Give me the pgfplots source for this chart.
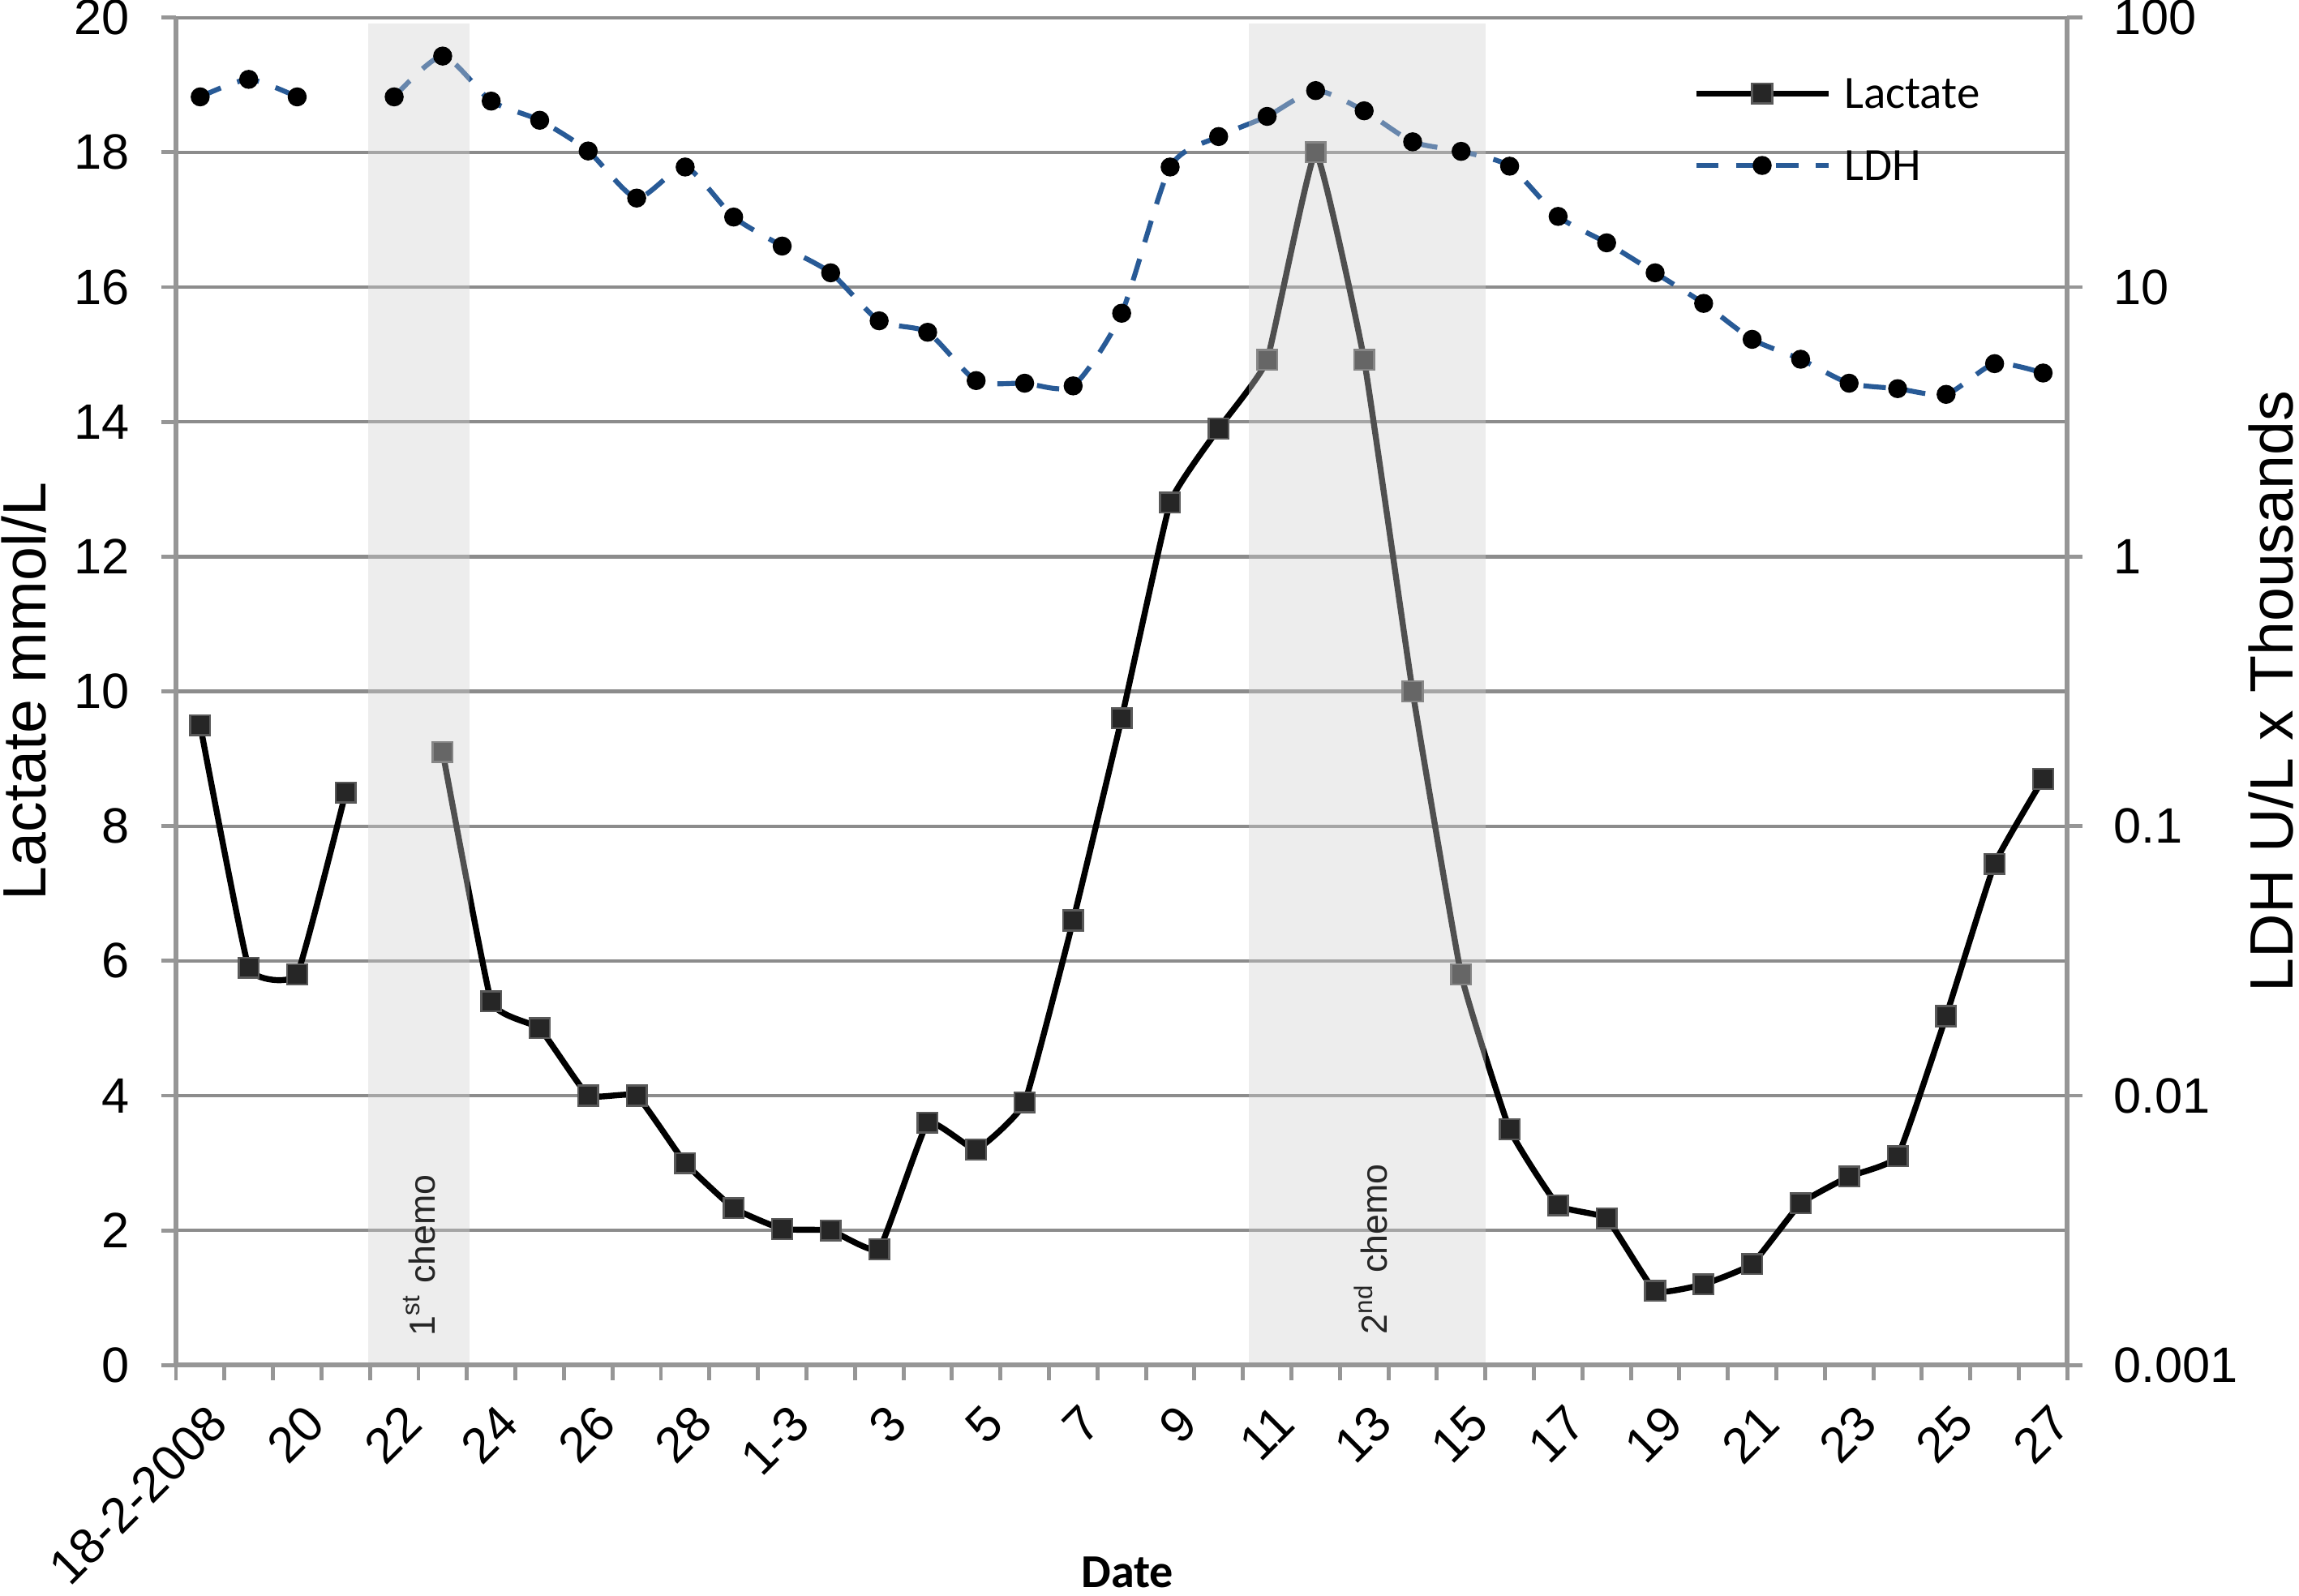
\documentclass[border=0pt]{standalone}
\usepackage{fontspec}
\setmainfont{Liberation Sans}
\newfontfamily\carlito{Carlito}
\usepackage{pgfplots}
\pgfplotsset{compat=1.18}
\definecolor{gridgray}{RGB}{140,140,140}
\definecolor{axgray}{RGB}{150,150,150}
\definecolor{ldhblue}{RGB}{40,90,150}
\definecolor{shadegray}{RGB}{208,208,208}
\begin{document}
\begin{tikzpicture}
\path[use as bounding box] (-35.28bp,-46.16bp) rectangle (425.71bp,273.72bp);
\begin{axis}[
  at={(0,0)}, anchor=south west,
  scale only axis, width=379.26bp, height=270.19bp,
  xmin=-0.5, xmax=38.5, ymin=0, ymax=20,
  axis x line*=bottom, axis y line*=left,
  axis line style={-, draw=axgray, line width=1bp},
  tick align=outside, major tick length=3bp,
  tick style={draw=axgray, line width=0.8bp},
  xtick={-0.5,0.5,...,38.5}, xticklabels={},
  extra x ticks={0,2,...,38},
  extra x tick labels={18-2-2008,20,22,24,26,28,1-3,3,5,7,9,11,13,15,17,19,21,23,25,27},
  extra x tick style={major tick length=0pt, tick style={draw=none}},
  xticklabel style={font=\fontsize{10}{12}\selectfont, inner sep=0pt, xshift=3.75bp, yshift=-9.85bp, rotate=45, anchor=east},
  ytick={0,2,...,20}, yticklabels={0,2,4,6,8,10,12,14,16,18,20},
  yticklabel style={font=\fontsize{10}{12}\selectfont, inner sep=0pt, xshift=-6.1bp},
  ymajorgrids, major grid style={draw=gridgray, line width=0.7bp},
  ylabel={Lactate mmol/L},
  ylabel style={at={(axis description cs:-0.0802,0.5)}, anchor=center, font=\fontsize{12.3}{14}\selectfont},
  xlabel={Date},
  xlabel style={at={(axis description cs:0.5031,-0.1535)}, anchor=center, font=\carlito\bfseries\fontsize{9.5}{11}\selectfont},
  unbounded coords=jump,
  legend style={draw=none, fill=none, at={(0.8016,0.917)}, anchor=west, inner sep=0pt,
    row sep=8.5bp, column sep=2.6bp, nodes={inner sep=0pt, text depth=0pt},
    cells={anchor=west}, font=\carlito\fontsize{9.3}{11}\selectfont},
  legend image code/.code={\draw[mark repeat=2,mark phase=2] plot coordinates {(0bp,0bp) (13.25bp,0bp) (26.5bp,0bp)};},
]
\addplot[black, line width=1.2bp, smooth, tension=0.2, mark=square*, mark size=2bp,
  mark options={fill=black!85, draw=black!65, line width=0.4bp, solid}] coordinates {
(0,9.5) (1,5.9) (2,5.8) (3,8.5) (4,nan) (5,9.1) (6,5.4) (7,5.0) (8,4.0) (9,4.0)
(10,3.0) (11,2.33) (12,2.02) (13,2.0) (14,1.72) (15,3.6) (16,3.2) (17,3.9) (18,6.6) (19,9.6)
(20,12.8) (21,13.9) (22,14.92) (23,18.0) (24,14.92) (25,10.0) (26,5.8) (27,3.5) (28,2.37) (29,2.18)
(30,1.1) (31,1.2) (32,1.5) (33,2.4) (34,2.8) (35,3.1) (36,5.18) (37,7.44) (38,8.7)
};
\addlegendentry{Lactate}
\addlegendimage{ldhblue, line width=1bp, dash pattern=on 4.5bp off 3.5bp, mark=*, mark size=1.4bp, mark options={fill=black, draw=black, solid}}
\addlegendentry{LDH}
\end{axis}
\begin{axis}[
  at={(0,0)}, anchor=south west,
  scale only axis, width=379.26bp, height=270.19bp,
  xmin=-0.5, xmax=38.5, ymode=log, ymin=0.001, ymax=100,
  axis x line=none, axis y line*=right,
  axis line style={-, draw=axgray, line width=1bp},
  tick align=outside, major tick length=3bp,
  tick style={draw=axgray, line width=0.8bp},
  yminorticks=false,
  ytick={0.001,0.01,0.1,1,10,100}, yticklabels={0.001,0.01,0.1,1,10,100},
  yticklabel style={font=\fontsize{10}{12}\selectfont, inner sep=0pt, xshift=6.1bp},
  ylabel={LDH U/L x Thousands},
  ylabel style={at={(axis description cs:1.1075,0.5)}, anchor=center, font=\fontsize{12.3}{14}\selectfont},
  unbounded coords=jump,
]
\addplot[ldhblue, line width=1bp, dash pattern=on 4.5bp off 3.5bp, smooth, tension=0.4, mark=*, mark size=1.4bp,
  mark options={fill=black, draw=black, solid}] coordinates {
(0,50.8) (1,59) (2,50.8) (3,nan) (4,50.8) (5,72) (6,49) (7,41.6) (8,32) (9,21.4)
(10,27.9) (11,18.2) (12,14.2) (13,11.3) (14,7.5) (15,6.8) (16,4.5) (17,4.4) (18,4.3) (19,8.0)
(20,27.9) (21,36.2) (22,43) (23,53.6) (24,45.1) (25,34.6) (26,31.9) (27,28.1) (28,18.3) (29,14.6)
(30,11.3) (31,8.7) (32,6.4) (33,5.4) (34,4.4) (35,4.2) (36,4.0) (37,5.2) (38,4.8)
};
\fill[shadegray, fill opacity=0.38] (rel axis cs:0.1015,0.002) rectangle (rel axis cs:0.1551,0.9955);
\fill[shadegray, fill opacity=0.38] (rel axis cs:0.5674,0.002) rectangle (rel axis cs:0.6923,0.9955);
\node[rotate=90, font=\fontsize{7.3}{8}\selectfont, text=black!85] at (rel axis cs:0.1287,0.0815) {1\textsuperscript{st} chemo};
\node[rotate=90, font=\fontsize{7.3}{8}\selectfont, text=black!85] at (rel axis cs:0.6318,0.086) {2\textsuperscript{nd} chemo};
\end{axis}
\end{tikzpicture}
\end{document}
